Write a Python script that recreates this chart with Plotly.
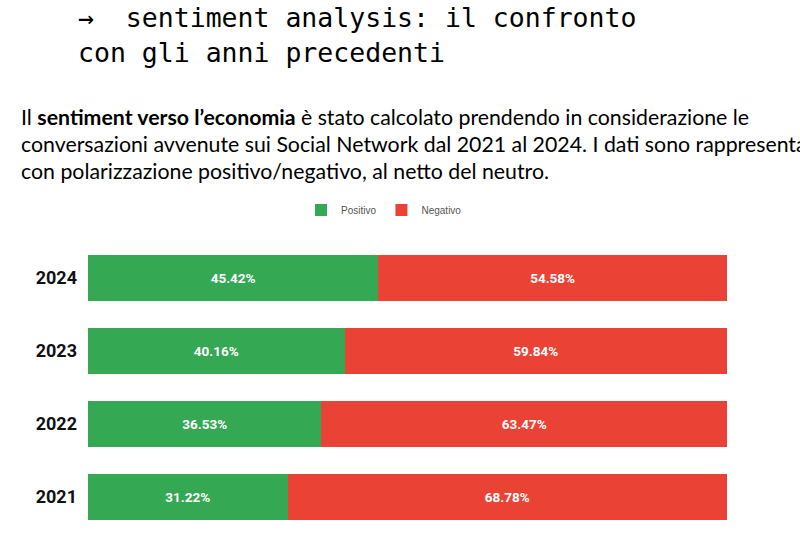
import plotly.graph_objects as go

years = ["2021", "2022", "2023", "2024"]
positivo = [31.22, 36.53, 40.16, 45.42]
negativo = [68.78, 63.47, 59.84, 54.58]

W, H = 800, 534
GREEN = "#34A853"
RED = "#EA4335"

fig = go.Figure()
fig.add_trace(go.Bar(
    y=years, x=positivo, orientation="h", name="Positivo",
    marker=dict(color=GREEN, line=dict(width=0)),
    text=[f"{v:.2f}%" for v in positivo], textposition="inside",
    insidetextanchor="middle",
    textfont=dict(color="white", size=13.5, family="Roboto", weight="bold"),
))
fig.add_trace(go.Bar(
    y=years, x=negativo, orientation="h", name="Negativo",
    marker=dict(color=RED, line=dict(width=0)),
    text=[f"{v:.2f}%" for v in negativo], textposition="inside",
    insidetextanchor="middle",
    textfont=dict(color="white", size=13.5, family="Roboto", weight="bold"),
))

def px(x):
    return x / W

def py(y):
    return 1 - y / H

annotations = []
# Title
for txt, yc in [("→  sentiment analysis: il confronto", 18), ("con gli anni precedenti", 52)]:
    annotations.append(dict(text=txt, x=px(76), y=py(yc), xref="paper", yref="paper",
                            xanchor="left", yanchor="middle", showarrow=False,
                            font=dict(family="DejaVu Sans Mono", size=26.5, color="#000000")))
# Paragraph
para = [
    ("Il <b>sentiment verso l’economia</b> è stato calcolato prendendo in considerazione le", 117),
    ("conversazioni avvenute sui Social Network dal 2021 al 2024. I dati sono rappresentati", 144),
    ("con polarizzazione positivo/negativo, al netto del neutro.", 171),
]
for txt, yc in para:
    annotations.append(dict(text=txt, x=px(19), y=py(yc), xref="paper", yref="paper",
                            xanchor="left", yanchor="middle", showarrow=False,
                            font=dict(family="Lato", size=21.3, color="#000000")))

fig.update_layout(
    width=W, height=H,
    margin=dict(l=0, r=0, t=0, b=0),
    paper_bgcolor="white", plot_bgcolor="white",
    barmode="stack", bargap=0.37,
    showlegend=True,
    legend=dict(orientation="h", x=px(301), xanchor="left", y=py(210), yanchor="middle",
                font=dict(family="Arial", size=10, color="#555555"),
                itemwidth=30, itemsizing="constant", traceorder="normal"),
    xaxis=dict(domain=[px(88), px(727)], range=[0, 100], visible=False, fixedrange=True),
    yaxis=dict(domain=[py(533), py(241.6)], showgrid=False, zeroline=False,
               showline=False, ticks="", ticklabelstandoff=10,
               tickfont=dict(family="Roboto", size=18, color="#111111", weight="bold")),
    annotations=annotations,
    uniformtext=dict(minsize=13, mode="show"),
)

fig.write_html("out.html")
